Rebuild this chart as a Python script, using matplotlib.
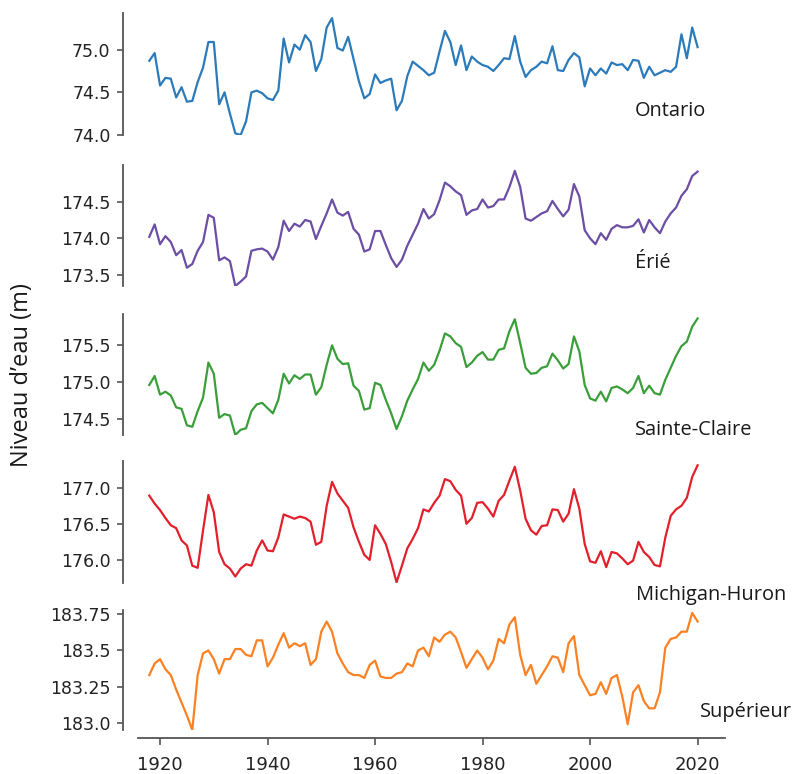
import numpy as np
import matplotlib
matplotlib.use('Agg')
from matplotlib import pyplot as plt

# niveaux annuels moyens des Grands Lacs, 1918-2020
annees = np.arange(1918, 2021)

ontario = [74.87, 74.96, 74.58, 74.67, 74.66, 74.44, 74.56, 74.39, 74.40, 74.62,
           74.79, 75.09, 75.09, 74.36, 74.50, 74.25, 74.02, 74.00, 74.16, 74.50,
           74.52, 74.49, 74.43, 74.41, 74.52, 75.13, 74.85, 75.06, 75.00, 75.17,
           75.09, 74.75, 74.89, 75.26, 75.37, 75.02, 74.99, 75.15, 74.89, 74.63,
           74.43, 74.48, 74.71, 74.61, 74.64, 74.66, 74.29, 74.40, 74.69, 74.86,
           74.81, 74.76, 74.70, 74.73, 74.98, 75.22, 75.09, 74.82, 75.05, 74.76,
           74.92, 74.86, 74.82, 74.80, 74.75, 74.82, 74.90, 74.89, 75.16, 74.86,
           74.68, 74.76, 74.80, 74.86, 74.84, 75.04, 74.76, 74.75, 74.88, 74.96,
           74.91, 74.57, 74.78, 74.70, 74.78, 74.72, 74.85, 74.82, 74.83, 74.76,
           74.88, 74.87, 74.67, 74.80, 74.70, 74.73, 74.76, 74.74, 74.80, 75.18,
           74.90, 75.26, 75.03]

erie = [174.02, 174.19, 173.92, 174.03, 173.95, 173.77, 173.84, 173.60, 173.65, 173.83,
        173.95, 174.32, 174.28, 173.70, 173.74, 173.69, 173.35, 173.41, 173.48, 173.83,
        173.85, 173.86, 173.82, 173.71, 173.88, 174.24, 174.10, 174.20, 174.16, 174.25,
        174.23, 173.99, 174.17, 174.34, 174.53, 174.35, 174.31, 174.36, 174.13, 174.05,
        173.82, 173.85, 174.10, 174.10, 173.91, 173.73, 173.61, 173.71, 173.90, 174.05,
        174.20, 174.40, 174.27, 174.33, 174.52, 174.76, 174.71, 174.64, 174.59, 174.32,
        174.38, 174.40, 174.53, 174.42, 174.44, 174.53, 174.53, 174.70, 174.92, 174.70,
        174.27, 174.24, 174.29, 174.34, 174.37, 174.51, 174.40, 174.30, 174.39, 174.74,
        174.57, 174.11, 174.00, 173.92, 174.07, 173.98, 174.13, 174.18, 174.15, 174.15,
        174.17, 174.26, 174.08, 174.25, 174.15, 174.07, 174.23, 174.34, 174.42, 174.58,
        174.67, 174.85, 174.91]

sainte_claire = [174.96, 175.08, 174.83, 174.87, 174.82, 174.66, 174.64, 174.42, 174.40, 174.61,
                 174.79, 175.26, 175.11, 174.52, 174.57, 174.55, 174.29, 174.36, 174.38, 174.61,
                 174.70, 174.72, 174.65, 174.58, 174.76, 175.11, 174.98, 175.09, 175.04, 175.10,
                 175.10, 174.83, 174.93, 175.23, 175.49, 175.31, 175.24, 175.25, 174.95, 174.88,
                 174.63, 174.65, 174.99, 174.96, 174.76, 174.58, 174.37, 174.54, 174.75, 174.90,
                 175.04, 175.26, 175.15, 175.23, 175.42, 175.65, 175.61, 175.52, 175.47, 175.20,
                 175.26, 175.35, 175.40, 175.30, 175.30, 175.43, 175.45, 175.68, 175.84, 175.52,
                 175.19, 175.11, 175.12, 175.19, 175.21, 175.38, 175.29, 175.18, 175.24, 175.61,
                 175.41, 174.96, 174.78, 174.75, 174.87, 174.74, 174.92, 174.94, 174.90, 174.85,
                 174.92, 175.08, 174.85, 174.95, 174.85, 174.83, 175.03, 175.19, 175.35, 175.48,
                 175.54, 175.74, 175.85]

michigan_huron = [176.89, 176.78, 176.69, 176.58, 176.48, 176.44, 176.27, 176.20, 175.92, 175.89,
                  176.41, 176.90, 176.66, 176.11, 175.94, 175.88, 175.77, 175.88, 175.94, 175.92,
                  176.13, 176.27, 176.13, 176.12, 176.31, 176.63, 176.60, 176.57, 176.60, 176.58,
                  176.53, 176.21, 176.25, 176.75, 177.08, 176.92, 176.82, 176.72, 176.45, 176.25,
                  176.07, 176.00, 176.48, 176.36, 176.22, 175.97, 175.69, 175.92, 176.16, 176.29,
                  176.44, 176.70, 176.67, 176.79, 176.89, 177.12, 177.09, 176.97, 176.89, 176.50,
                  176.58, 176.79, 176.80, 176.71, 176.60, 176.82, 176.90, 177.10, 177.29, 176.96,
                  176.57, 176.41, 176.35, 176.47, 176.48, 176.70, 176.69, 176.53, 176.64, 176.98,
                  176.71, 176.22, 175.98, 175.96, 176.12, 175.90, 176.11, 176.09, 176.02, 175.94,
                  175.99, 176.25, 176.11, 176.04, 175.93, 175.91, 176.31, 176.61, 176.70, 176.75,
                  176.86, 177.15, 177.31]

superieur = [183.33, 183.41, 183.44, 183.37, 183.33, 183.23, 183.14, 183.05, 182.95, 183.33,
             183.48, 183.50, 183.44, 183.34, 183.44, 183.44, 183.51, 183.51, 183.47, 183.46,
             183.57, 183.57, 183.39, 183.45, 183.54, 183.62, 183.52, 183.55, 183.53, 183.55,
             183.40, 183.44, 183.63, 183.70, 183.63, 183.48, 183.41, 183.35, 183.33, 183.33,
             183.31, 183.40, 183.43, 183.32, 183.31, 183.31, 183.34, 183.35, 183.41, 183.39,
             183.50, 183.52, 183.46, 183.59, 183.56, 183.61, 183.63, 183.59, 183.49, 183.38,
             183.44, 183.50, 183.45, 183.37, 183.43, 183.58, 183.55, 183.68, 183.73, 183.47,
             183.33, 183.40, 183.27, 183.33, 183.39, 183.46, 183.45, 183.35, 183.55, 183.60,
             183.33, 183.26, 183.19, 183.20, 183.28, 183.20, 183.31, 183.33, 183.18, 182.99,
             183.21, 183.26, 183.15, 183.10, 183.10, 183.21, 183.52, 183.58, 183.59, 183.63,
             183.63, 183.76, 183.70]

lacs = ['Ontario', 'Érié', 'Sainte-Claire', 'Michigan-Huron', 'Supérieur']
niveaux = [ontario, erie, sainte_claire, michigan_huron, superieur]
couleurs = ['#2b7bba', '#6c4ea5', '#3a9e3a', '#e2202b', '#fb8122']
yticks = [[74.0, 74.5, 75.0],
          [173.5, 174.0, 174.5],
          [174.5, 175.0, 175.5],
          [176.0, 176.5, 177.0],
          [183.0, 183.25, 183.5, 183.75]]
ylims = [(74.0, 75.43), (173.35, 175.0), (174.29, 175.91), (175.68, 177.37), (182.95, 183.78)]

W, H = 793, 774
fig = plt.figure(figsize=(W / 100, H / 100), dpi=100)

# (haut, bas) de chaque panneau en pixels
panneaux = [(13, 135), (165, 286), (314, 435), (461, 583), (610, 730)]
etiquettes = [(635, 111), (635, 263), (635, 430), (636, 595), (700, 712)]

gris = '#555555'
police = ['Open Sans', 'DejaVu Sans']
for i in range(5):
    haut, bas = panneaux[i]
    ax = fig.add_axes([138 / W, 1 - bas / H, 587 / W, (bas - haut) / H])
    ax.plot(annees, niveaux[i], color=couleurs[i], lw=1.6)
    ax.set_xlim(1915.9, 2025.1)
    ax.set_ylim(*ylims[i])
    ax.set_yticks(yticks[i])
    if i == 4:
        ax.set_yticklabels(['183.0', '183.25', '183.5', '183.75'])
    ax.spines[['top', 'right']].set_visible(False)
    ax.spines['left'].set_position(('outward', 10.8))
    ax.spines['left'].set_color(gris)
    ax.spines['left'].set_linewidth(1.3)
    ax.tick_params(axis='y', colors=gris, labelcolor='#222222', labelsize=12.5,
                   length=4, width=1.2, pad=5)
    if i < 4:
        ax.spines['bottom'].set_visible(False)
        ax.set_xticks([])
    else:
        ax.spines['bottom'].set_position(('outward', 5.8))
        ax.spines['bottom'].set_color(gris)
        ax.spines['bottom'].set_linewidth(1.3)
        ax.set_xticks([1920, 1940, 1960, 1980, 2000, 2020])
        ax.tick_params(axis='x', colors=gris, labelcolor='#222222', labelsize=13,
                       length=5, width=1.2, pad=8)
    ax.patch.set_alpha(0)
    lx, ly = etiquettes[i]
    fig.text(lx / W, 1 - ly / H, lacs[i], fontsize=14.4, family=police,
             color='#1a1a1a', ha='left', va='center')

fig.text(22 / W, 1 - 375 / H, 'Niveau d’eau (m)', rotation=90, fontsize=17,
         family=police, color='#1a1a1a', ha='center', va='center')

plt.savefig('out.png', dpi=100)
